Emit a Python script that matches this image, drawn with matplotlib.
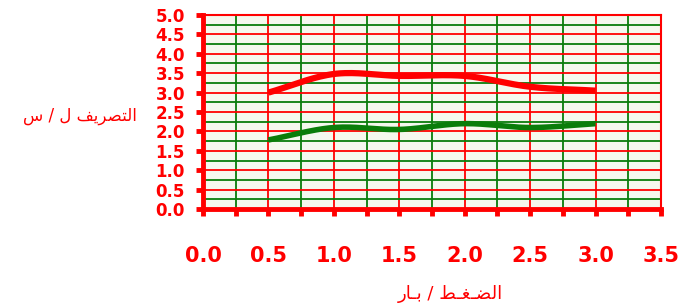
import matplotlib
matplotlib.use("Agg")
import matplotlib.pyplot as plt
import numpy as np
from matplotlib.ticker import FormatStrFormatter, MultipleLocator

pressure = [0.5, 1.0, 1.5, 2.0, 2.5, 3.0]
flow_red = [3.0, 3.48, 3.43, 3.43, 3.15, 3.05]
flow_green = [1.78, 2.1, 2.05, 2.2, 2.1, 2.2]

# Arabic labels written in shaped, visual (left-to-right) order
y_label = "\uFEB1 / \uFEDD \uFED2\uFEF3\uFEAE\uFEBC\uFE98\uFEDF\uFE8D"
x_label = "\uFEAD\uFE8E\u0640\uFE91 / \uFEC2\u0640\uFED0\u0640\uFEC0\uFEDF\uFE8D"

RED = "#ff0000"
GREEN = "#0a7d0a"

plt.rcParams["font.weight"] = "bold"


def smooth(xs, ys, n=30):
    # Catmull-Rom curve through the points (like a smoothed spreadsheet line)
    xs = np.asarray(xs, float)
    ys = np.asarray(ys, float)
    px = np.concatenate([[2 * xs[0] - xs[1]], xs, [2 * xs[-1] - xs[-2]]])
    py = np.concatenate([[2 * ys[0] - ys[1]], ys, [2 * ys[-1] - ys[-2]]])
    out_x, out_y = [], []
    for i in range(1, len(px) - 2):
        t = np.linspace(0, 1, n)
        for p, out in ((px, out_x), (py, out_y)):
            p0, p1, p2, p3 = p[i - 1], p[i], p[i + 1], p[i + 2]
            out.extend(0.5 * ((2 * p1) + (-p0 + p2) * t
                              + (2 * p0 - 5 * p1 + 4 * p2 - p3) * t ** 2
                              + (-p0 + 3 * p1 - 3 * p2 + p3) * t ** 3))
    return out_x, out_y


fig = plt.figure(figsize=(6.79, 3.06), dpi=100)
ax = fig.add_axes([203 / 679, 1 - 209 / 306, 458 / 679, 194 / 306])
ax.set_facecolor("#f5f8ee")

ax.set_xlim(0, 3.5)
ax.set_ylim(0, 5)
ax.xaxis.set_major_locator(MultipleLocator(0.5))
ax.xaxis.set_minor_locator(MultipleLocator(0.25))
ax.yaxis.set_major_locator(MultipleLocator(0.5))
ax.yaxis.set_minor_locator(MultipleLocator(0.25))
ax.xaxis.set_major_formatter(FormatStrFormatter("%.1f"))
ax.yaxis.set_major_formatter(FormatStrFormatter("%.1f"))

ax.grid(which="minor", color=GREEN, linewidth=1.3)
ax.grid(which="major", color=RED, linewidth=1.3)
ax.set_axisbelow(True)

for side in ("top", "right"):
    ax.spines[side].set_color(RED)
    ax.spines[side].set_linewidth(1.5)
for side in ("left", "bottom"):
    ax.spines[side].set_color(RED)
    ax.spines[side].set_linewidth(3.5)

ax.tick_params(axis="y", which="major", direction="out", length=5, width=3.5,
               color=RED, labelcolor=RED, labelsize=12, pad=8)
ax.tick_params(axis="y", which="minor", length=0)
ax.tick_params(axis="x", which="both", direction="out", length=5, width=3.5,
               color=RED)
ax.tick_params(axis="x", which="major", labelcolor=RED, labelsize=15, pad=22)

rx, ry = smooth(pressure, flow_red)
gx, gy = smooth(pressure, flow_green)
ax.plot(rx, ry, color=RED, linewidth=4.5, solid_capstyle="butt")
ax.plot(gx, gy, color=GREEN, linewidth=4, solid_capstyle="butt")

fig.text(80 / 679, 1 - 116 / 306, y_label, color=RED, fontsize=12,
         fontweight="normal", ha="center", va="center", family="DejaVu Sans")
fig.text(450 / 679, 1 - 294 / 306, x_label, color=RED, fontsize=13,
         fontweight="normal", ha="center", va="center", family="DejaVu Sans")

fig.savefig("out.png", dpi=100)
